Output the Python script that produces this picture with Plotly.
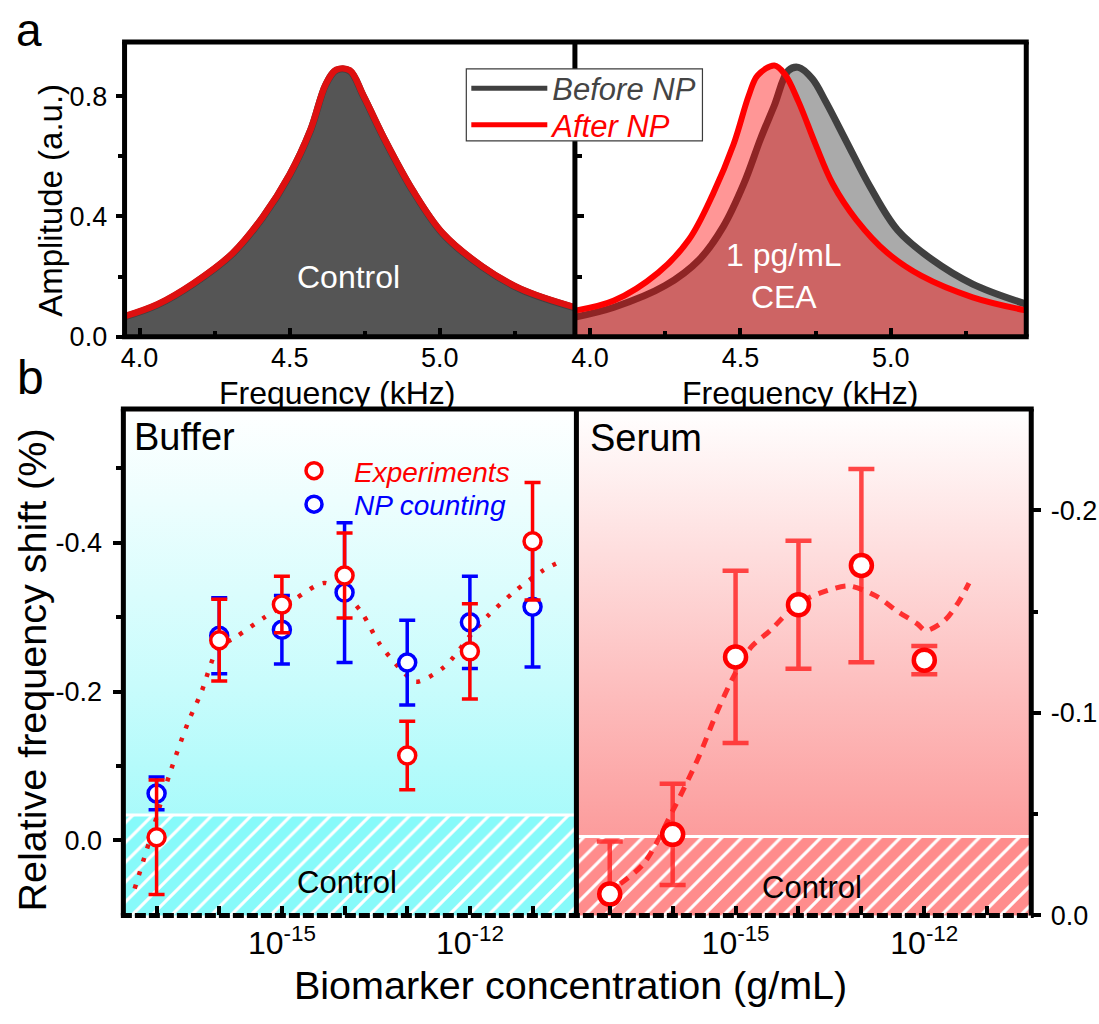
import plotly.graph_objects as go

# ---------------- data: panel a (resonance spectra) ----------------
ctrl_freq = [3.95, 4.06, 4.18, 4.31, 4.41, 4.50, 4.57, 4.62, 4.655, 4.70, 4.745, 4.82, 4.91, 5.01, 5.14, 5.27, 5.45]
ctrl_before = [0.066, 0.106, 0.176, 0.276, 0.396, 0.538, 0.688, 0.838, 0.886, 0.884, 0.801, 0.648, 0.485, 0.342, 0.233, 0.157, 0.096]
ctrl_after = [0.068, 0.108, 0.178, 0.278, 0.398, 0.540, 0.690, 0.840, 0.888, 0.886, 0.803, 0.650, 0.487, 0.344, 0.235, 0.159, 0.098]

cea_before_freq = [3.955, 4.08, 4.25, 4.364, 4.443, 4.511, 4.568, 4.613, 4.659, 4.693, 4.739, 4.784, 4.852, 4.932, 5.022, 5.136, 5.272, 5.448]
cea_before = [0.066, 0.098, 0.170, 0.257, 0.366, 0.508, 0.661, 0.770, 0.885, 0.896, 0.858, 0.781, 0.650, 0.497, 0.355, 0.257, 0.175, 0.109]
cea_after_freq = [3.955, 4.08, 4.227, 4.329, 4.409, 4.477, 4.528, 4.557, 4.613, 4.647, 4.693, 4.750, 4.807, 4.886, 4.988, 5.102, 5.272, 5.448]
cea_after = [0.0875, 0.120, 0.213, 0.323, 0.475, 0.639, 0.803, 0.869, 0.902, 0.874, 0.782, 0.639, 0.508, 0.388, 0.279, 0.202, 0.131, 0.0875]

freq_ticks = [4.0, 4.5, 5.0]
freq_ticktext = ["4.0", "4.5", "5.0"]
freq_minor = [4.25, 4.75, 5.25]
amp_ticks = [0.0, 0.4, 0.8]
amp_ticktext = ["0.0", "0.4", "0.8"]
amp_minor = [0.2, 0.6]

# ---------------- data: panel b (frequency shift vs concentration) ----------------
buffer_exp = [-17, -16, -15, -14, -13, -12, -11]          # log10 concentration (g/mL)
buffer_shift = [-0.004, -0.269, -0.317, -0.356, -0.114, -0.254, -0.402]
buffer_err = [0.077, 0.055, 0.038, 0.057, 0.046, 0.064, 0.079]
np_shift = [-0.063, -0.275, -0.283, -0.333, -0.239, -0.293, -0.314]
np_err = [0.022, 0.051, 0.046, 0.094, 0.057, 0.062, 0.081]

buffer_fit_exp = [-17.35, -17.11, -16.80, -16.50, -16.29, -16.02, -15.74, -15.29, -14.80, -14.32, -13.95,
                  -13.71, -13.44, -13.04, -12.86, -12.41, -11.95, -11.71, -11.28, -10.83, -10.55]
buffer_fit = [0.065, 0.0, -0.087, -0.158, -0.198, -0.2575, -0.273, -0.299, -0.324, -0.346, -0.328,
              -0.304, -0.264, -0.224, -0.213, -0.233, -0.280, -0.302, -0.335, -0.363, -0.375]

serum_exp = [-17, -16, -15, -14, -13, -12]
serum_shift = [-0.0105, -0.040, -0.1276, -0.1533, -0.1727, -0.126]
serum_err = [0.026, 0.025, 0.0425, 0.0316, 0.0477, 0.007]

serum_fit_exp = [-17.07, -16.47, -15.98, -15.60, -15.30, -15.03, -14.75, -14.45, -14.02, -13.64, -13.20,
                 -12.77, -12.44, -12.11, -11.98, -11.68, -11.46, -11.29]
serum_fit = [-0.0105, -0.0252, -0.0528, -0.0772, -0.100, -0.118, -0.1325, -0.1406, -0.1537, -0.1593, -0.1626,
             -0.1577, -0.1504, -0.1439, -0.1406, -0.1455, -0.1544, -0.164]

control_buffer = -0.034   # upper edge of control band (left axis)
control_serum = -0.039    # upper edge of control band (right axis)

conc_tickexp = [-15, -12]
conc_ticktext = ["10<sup>-15</sup>", "10<sup>-12</sup>"]
conc_minorexp = [-17, -16, -14, -13, -11]
left_ticks = [-0.4, -0.2, 0.0]
left_ticktext = ["-0.4", "-0.2", "0.0"]
left_minor = [-0.5, -0.3, -0.1]
right_ticks = [-0.2, -0.1, 0.0]
right_ticktext = ["-0.2", "-0.1", "0.0"]
right_minor = [-0.15, -0.05]

# ---------------- layout geometry (pixels) ----------------
W, H = 1099, 1024
FONT = "Liberation Sans, Arial, sans-serif"
X_RANGE_A = [3.95, 5.45]
Y_RANGE_A = [0, 0.98]
X_RANGE_B = [-17.53, -10.30]
Y_RANGE_L = [0.101, -0.58]
Y_RANGE_R = [0.0, -0.25]

A_LEFT, A_MID, A_RIGHT, A_TOP, A_BOT = 121, 573, 1026, 42.7, 341.7
B_LEFT, B_MID, B_RIGHT, B_TOP, B_BOT = 119.8, 574.5, 1031, 415, 929


def px(x):
    return x / W


def py(y):
    return 1 - y / H


def pw(v):
    return [10 ** e for e in v]


fig = go.Figure()

# ---------- panel a, left (control) ----------
fig.add_trace(go.Scatter(x=ctrl_freq, y=ctrl_before, mode="lines", fill="tozeroy",
                         fillcolor="rgb(85,85,85)", line=dict(color="rgb(64,64,64)", width=7, shape="spline"),
                         xaxis="x", yaxis="y", showlegend=False))
fig.add_trace(go.Scatter(x=ctrl_freq, y=ctrl_after, mode="lines",
                         line=dict(color="rgb(222,16,16)", width=6.5, shape="spline"),
                         xaxis="x", yaxis="y", showlegend=False))

# ---------- panel a, right (1 pg/mL CEA) ----------
fig.add_trace(go.Scatter(x=cea_before_freq, y=cea_before, mode="lines", fill="tozeroy",
                         fillcolor="rgb(170,170,170)", line=dict(color="rgb(64,64,64)", width=7, shape="spline"),
                         xaxis="x2", yaxis="y2", showlegend=False))
fig.add_trace(go.Scatter(x=cea_after_freq, y=cea_after, mode="lines", fill="tozeroy",
                         fillcolor="rgba(255,0,0,0.41)", line=dict(color="rgb(255,0,0)", width=6, shape="spline"),
                         xaxis="x2", yaxis="y2", showlegend=False))

# legend entries for panel a (one legend per row)
fig.add_trace(go.Scatter(x=[None], y=[None], mode="lines", line=dict(color="rgb(64,64,64)", width=5),
                         name="<span style='color:#444444'><i>Before NP</i></span>",
                         xaxis="x2", yaxis="y2", legend="legend"))
fig.add_trace(go.Scatter(x=[None], y=[None], mode="lines", line=dict(color="rgb(255,0,0)", width=5),
                         name="<span style='color:#ff0000'><i>After NP</i></span>",
                         xaxis="x2", yaxis="y2", legend="legend3"))

# ---------- panel b, backgrounds ----------
bx = pw([X_RANGE_B[0], X_RANGE_B[1], X_RANGE_B[1], X_RANGE_B[0], X_RANGE_B[0]])
fig.add_trace(go.Scatter(x=bx, y=[Y_RANGE_L[0], Y_RANGE_L[0], Y_RANGE_L[1], Y_RANGE_L[1], Y_RANGE_L[0]],
                         mode="none", fill="toself",
                         fillgradient=dict(type="vertical", colorscale=[[0, "rgb(145,249,249)"], [0.45, "rgb(200,252,252)"], [1, "rgb(255,255,255)"]]),
                         xaxis="x3", yaxis="y3", showlegend=False, hoverinfo="skip"))
fig.add_trace(go.Scatter(x=bx, y=[Y_RANGE_R[0], Y_RANGE_R[0], Y_RANGE_R[1], Y_RANGE_R[1], Y_RANGE_R[0]],
                         mode="none", fill="toself",
                         fillgradient=dict(type="vertical", colorscale=[[0, "rgb(251,138,138)"], [0.45, "rgb(253,190,190)"], [1, "rgb(255,255,255)"]]),
                         xaxis="x4", yaxis="y4", showlegend=False, hoverinfo="skip"))

# control bands (hatched)
fig.add_trace(go.Scatter(x=bx, y=[Y_RANGE_L[0], Y_RANGE_L[0], control_buffer, control_buffer, Y_RANGE_L[0]],
                         mode="none", fill="toself", fillcolor="rgb(135,250,250)",
                         fillpattern=dict(shape="/", fgcolor="white", bgcolor="rgb(135,250,250)", fgopacity=1,
                                          size=14, solidity=0.22),
                         xaxis="x3", yaxis="y3", showlegend=False, hoverinfo="skip"))
fig.add_trace(go.Scatter(x=pw(X_RANGE_B), y=[control_buffer, control_buffer], mode="lines",
                         line=dict(color="white", width=3), xaxis="x3", yaxis="y3", showlegend=False))
fig.add_trace(go.Scatter(x=bx, y=[Y_RANGE_R[0], Y_RANGE_R[0], control_serum, control_serum, Y_RANGE_R[0]],
                         mode="none", fill="toself", fillcolor="rgb(255,140,140)",
                         fillpattern=dict(shape="/", fgcolor="white", bgcolor="rgb(255,140,140)", fgopacity=1,
                                          size=14, solidity=0.22),
                         xaxis="x4", yaxis="y4", showlegend=False, hoverinfo="skip"))
fig.add_trace(go.Scatter(x=pw(X_RANGE_B), y=[control_serum, control_serum], mode="lines",
                         line=dict(color="white", width=3), xaxis="x4", yaxis="y4", showlegend=False))

# ---------- panel b, buffer ----------
fig.add_trace(go.Scatter(x=pw(buffer_fit_exp), y=buffer_fit, mode="lines",
                         line=dict(color="rgb(235,20,20)", width=4.5, dash="4px,10px", shape="spline", smoothing=0.8),
                         xaxis="x3", yaxis="y3", showlegend=False))
fig.add_trace(go.Scatter(x=pw(buffer_exp), y=np_shift, mode="markers",
                         marker=dict(symbol="circle", size=17, color="white", line=dict(color="rgb(0,0,255)", width=3.5)),
                         error_y=dict(type="data", array=np_err, color="rgb(0,0,255)", thickness=3.5, width=8),
                         name="<span style='color:#0000ff'><i>NP counting</i></span>",
                         xaxis="x3", yaxis="y3", legend="legend4"))
fig.add_trace(go.Scatter(x=pw(buffer_exp), y=buffer_shift, mode="markers",
                         marker=dict(symbol="circle", size=17, color="white", line=dict(color="rgb(255,0,0)", width=3.5)),
                         error_y=dict(type="data", array=buffer_err, color="rgb(255,0,0)", thickness=3.5, width=8),
                         name="<span style='color:#ff0000'><i>Experiments</i></span>",
                         xaxis="x3", yaxis="y3", legend="legend2"))

# ---------- panel b, serum ----------
fig.add_trace(go.Scatter(x=pw(serum_fit_exp), y=serum_fit, mode="lines",
                         line=dict(color="rgba(255,20,20,0.85)", width=5, dash="10px,8px", shape="spline", smoothing=0.8),
                         xaxis="x4", yaxis="y4", showlegend=False))
fig.add_trace(go.Scatter(x=pw(serum_exp), y=serum_shift, mode="markers",
                         marker=dict(symbol="circle", size=21, color="white", line=dict(color="rgb(255,0,0)", width=4.5)),
                         error_y=dict(type="data", array=serum_err, color="rgba(255,40,40,0.85)", thickness=4.5, width=13),
                         xaxis="x4", yaxis="y4", showlegend=False))

# ---------- axes ----------
ax_kw = dict(showline=False, showgrid=False, zeroline=False, tickcolor="black")
tick_font = dict(family=FONT, size=27, color="black")
conc_font = dict(family=FONT, size=32, color="black")

fig.update_layout(
    xaxis=dict(domain=[px(A_LEFT), px(A_MID)], range=X_RANGE_A, anchor="y", tickvals=freq_ticks, ticktext=freq_ticktext,
               ticks="inside", ticklen=9, tickwidth=4, tickfont=tick_font, ticklabelstandoff=2,
               minor=dict(ticks="inside", ticklen=6, tickwidth=3.5, tickvals=freq_minor), **ax_kw),
    yaxis=dict(domain=[py(A_BOT), py(A_TOP)], range=Y_RANGE_A, anchor="x", tickvals=amp_ticks, ticktext=amp_ticktext,
               ticks="outside", ticklen=8, tickwidth=4, tickfont=tick_font, ticklabelstandoff=3, mirror="ticks",
               minor=dict(ticks="outside", ticklen=6, tickwidth=3.5, tickvals=amp_minor), **ax_kw),
    xaxis2=dict(domain=[px(A_MID), px(A_RIGHT)], range=X_RANGE_A, anchor="y2", tickvals=freq_ticks, ticktext=freq_ticktext,
                ticks="inside", ticklen=9, tickwidth=4, tickfont=tick_font, ticklabelstandoff=2,
                minor=dict(ticks="inside", ticklen=6, tickwidth=3.5, tickvals=freq_minor), **ax_kw),
    yaxis2=dict(domain=[py(A_BOT), py(A_TOP)], range=Y_RANGE_A, anchor="x2", showticklabels=False,
                ticks="", **ax_kw),
    xaxis3=dict(domain=[px(B_LEFT), px(B_MID)], type="log", range=X_RANGE_B, anchor="y3",
                tickvals=pw(conc_tickexp), ticktext=conc_ticktext, ticks="inside", ticklen=9, tickwidth=4,
                tickfont=conc_font, ticklabelstandoff=6,
                minor=dict(ticks="inside", ticklen=9, tickwidth=4, tickvals=pw(conc_minorexp)), **ax_kw),
    yaxis3=dict(domain=[py(B_BOT), py(B_TOP)], range=Y_RANGE_L, anchor="x3", tickvals=left_ticks, ticktext=left_ticktext,
                ticks="outside", ticklen=9, tickwidth=4, tickfont=tick_font, ticklabelstandoff=6,
                minor=dict(ticks="outside", ticklen=6, tickwidth=3.5, tickvals=left_minor), **ax_kw),
    xaxis4=dict(domain=[px(B_MID), px(B_RIGHT)], type="log", range=X_RANGE_B, anchor="y4",
                tickvals=pw(conc_tickexp), ticktext=conc_ticktext, ticks="inside", ticklen=9, tickwidth=4,
                tickfont=conc_font, ticklabelstandoff=6,
                minor=dict(ticks="inside", ticklen=9, tickwidth=4, tickvals=pw(conc_minorexp)), **ax_kw),
    yaxis4=dict(domain=[py(B_BOT), py(B_TOP)], range=Y_RANGE_R, anchor="x4", side="right", tickvals=right_ticks,
                ticktext=right_ticktext, ticks="outside", ticklen=9, tickwidth=4, tickfont=tick_font,
                ticklabelstandoff=4,
                minor=dict(ticks="outside", ticklen=6, tickwidth=3.5, tickvals=right_minor), **ax_kw),
)

# ---------- frames ----------
def seg(x0, y0, x1, y1, width=5, dash="solid"):
    fig.add_shape(type="line", xref="paper", yref="paper", x0=px(x0), y0=py(y0), x1=px(x1), y1=py(y1),
                  line=dict(color="black", width=width, dash=dash), layer="above")


seg(A_LEFT - 2.5, A_TOP, A_RIGHT + 2.5, A_TOP)
seg(A_LEFT - 2.5, A_BOT, A_RIGHT + 2.5, A_BOT)
seg(A_LEFT, A_TOP, A_LEFT, A_BOT)
seg(A_RIGHT, A_TOP, A_RIGHT, A_BOT)
seg(A_MID, A_TOP, A_MID, A_BOT)

seg(B_LEFT - 2.5, B_TOP, B_RIGHT + 2.5, B_TOP)
seg(B_LEFT - 2.5, B_BOT, B_RIGHT + 2.5, B_BOT, width=5, dash="11px,3px")
seg(B_LEFT, B_TOP, B_LEFT, B_BOT)
seg(B_RIGHT, B_TOP, B_RIGHT, B_BOT)
seg(B_MID, B_TOP, B_MID, B_BOT)

# legend frame of panel a
fig.add_shape(type="rect", xref="paper", yref="paper", x0=px(464), x1=px(701), y0=py(70), y1=py(143),
              fillcolor="white", line=dict(color="rgb(60,60,60)", width=1.2), layer="above")

# ---------- legends ----------
leg_common = dict(xanchor="left", yanchor="middle", bgcolor="rgba(0,0,0,0)", borderwidth=0)
fig.update_layout(
    legend=dict(x=px(464), y=py(90), font=dict(family=FONT, size=31), itemwidth=76, **leg_common),
    legend3=dict(x=px(464), y=py(127), font=dict(family=FONT, size=31), itemwidth=76, **leg_common),
    legend2=dict(x=px(271), y=py(478), font=dict(family=FONT, size=28), itemwidth=70, **leg_common),
    legend4=dict(x=px(271), y=py(512), font=dict(family=FONT, size=28), itemwidth=70, **leg_common),
)


# ---------- annotations ----------
def ann(text, x, y, size, color="black", angle=0, xanchor="center", yanchor="middle"):
    return dict(text=text, x=px(x), y=py(y), xref="paper", yref="paper", showarrow=False,
                font=dict(family=FONT, size=size, color=color), textangle=angle,
                xanchor=xanchor, yanchor=yanchor)


annotations = [
    ann("a", 25, 30, 46),
    ann("b", 27, 383, 48),
    ann("Amplitude (a.u.)", 46, 203, 33, angle=-90),
    ann("Frequency (kHz)", 335, 399, 32),
    ann("Frequency (kHz)", 799, 399, 32),
    ann("Control", 346, 281, 32, color="white"),
    ann("1 pg/mL<br>CEA", 783, 280, 32, color="white"),
    ann("Buffer", 128, 444, 38, xanchor="left"),
    ann("Serum", 586, 445, 38, xanchor="left"),
    ann("Control", 344.5, 896, 31),
    ann("Control", 811, 901, 31),
    ann("Relative frequency shift (%)", 28.5, 680, 39.5, angle=-90),
    ann("Biomarker concentration (g/mL)", 569, 1000, 39.5),
]

fig.update_layout(
    width=W, height=H, autosize=False, margin=dict(l=0, r=0, t=0, b=0),
    paper_bgcolor="white", plot_bgcolor="rgba(0,0,0,0)",
    font=dict(family=FONT, color="black"), annotations=annotations,
)

fig.write_html("out.html")
